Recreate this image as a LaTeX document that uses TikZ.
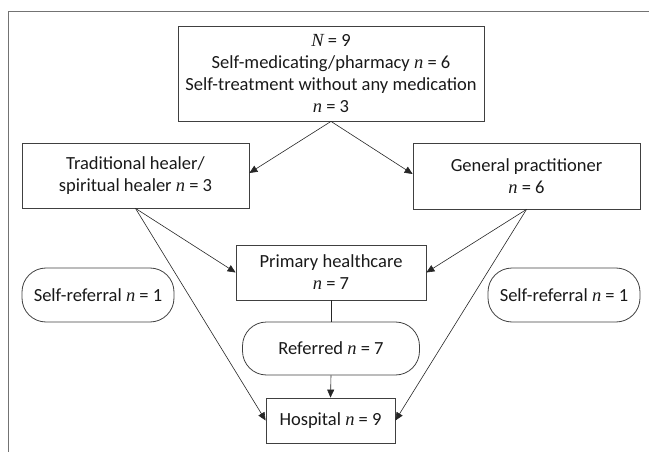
\documentclass[tikz,border=0pt]{standalone}
\usepackage{fontspec}
\setmainfont{Carlito}
\newfontfamily\serfam{Liberation Serif}
\newcommand\myn{{\serfam\itshape n}}
\newcommand\myN{{\serfam\itshape N}}
\usetikzlibrary{arrows.meta}
\begin{document}
\begin{tikzpicture}[x=1pt,y=-1pt,
  every node/.style={font=\fontsize{18.5}{22}\selectfont, text=black!90, align=center, inner sep=0pt},
  box/.style={draw=black!75, line width=0.8pt},
  pill/.style={draw=black!75, line width=0.8pt, rounded corners=24pt},
  conn/.style={draw=black!85, line width=0.6pt},
  arr/.style={conn, -{Triangle[length=8pt,width=7pt]}}]
\useasboundingbox (0,0) rectangle (649,452);
\draw[black!55, line width=0.9pt] (8,452) coordinate (fb) -- (8,11) coordinate (fc) -- (649,11) coordinate (fr);
\node[box, minimum width=306pt, minimum height=95pt] (top) at (331,73.5)
  {\myN{} = 9\\ Self-medicating/pharmacy \myn{} = 6\\ Self-treatment without any medication\\ \myn{} = 3};
\node[box, minimum width=227pt, minimum height=65pt] (trad) at (135.5,175.5)
  {Traditional healer/\\ spiritual healer \myn{} = 3};
\node[box, minimum width=227pt, minimum height=66pt] (gp) at (526.5,176)
  {General practitioner\\ \myn{} = 6};
\node[box, minimum width=190pt, minimum height=55pt] (prim) at (331,272.5)
  {Primary healthcare\\ \myn{} = 7};
\node[pill, minimum width=152pt, minimum height=54pt] (selfL) at (98,295)
  {Self-referral \myn{} = 1};
\node[pill, minimum width=152pt, minimum height=54pt] (selfR) at (564,295)
  {Self-referral \myn{} = 1};
\node[pill, minimum width=177pt, minimum height=53pt] (ref) at (331,348.5)
  {Referred \myn{} = 7};
\node[box, minimum width=129pt, minimum height=45pt] (hosp) at (330.5,420.5)
  {Hospital \myn{} = 9};
\draw[arr] (top.south) -- ([yshift=2.5pt]trad.east);
\draw[arr] (top.south) -- ([yshift=2pt]gp.west);
\draw[arr] (trad.south) -- (prim.west);
\draw[arr] (trad.south) -- (hosp.west);
\draw[arr] (gp.south) -- (prim.east);
\draw[arr] (gp.south) -- (hosp.east);
\draw[conn] (prim.south) -- (ref.north);
\draw[arr] (ref.south) -- (hosp.north);
\end{tikzpicture}
\end{document}
